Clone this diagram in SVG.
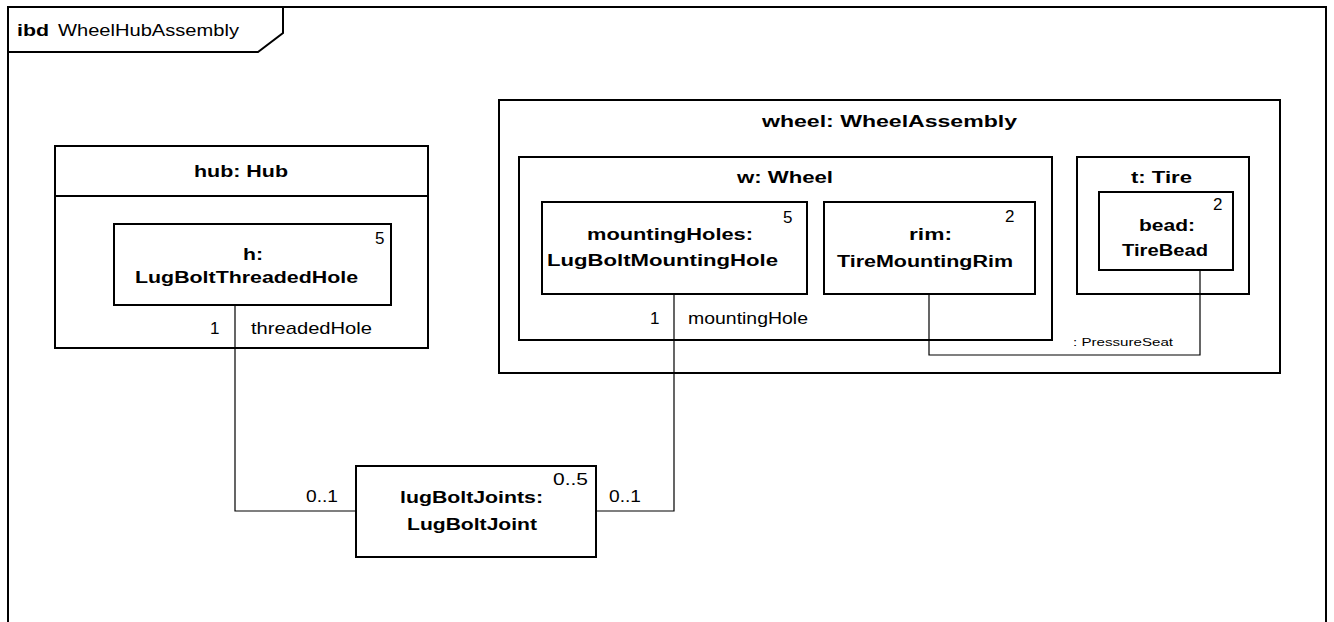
<svg xmlns="http://www.w3.org/2000/svg" width="1334" height="622" viewBox="0 0 1334 622">
<style>
.box{fill:#fff;stroke:#000;stroke-width:2}
.frame{fill:none;stroke:#000;stroke-width:2}
.conn{fill:none;stroke:#000;stroke-width:1.2}
text{font-family:"Liberation Sans",Arial,sans-serif;fill:#000}
.b{font-weight:bold;font-size:16px}
.r{font-size:17px}
.s{font-size:11px}
</style>
<rect width="1334" height="622" fill="#fff"/>
<g id="frame">
<path class="frame" d="M8,640 V7 H1326 V640"/>
<path class="frame" d="M8,52 H258 L283,33 V7"/>
<text x="17" y="36" class="b" font-size="17" textLength="32" lengthAdjust="spacingAndGlyphs">ibd</text>
<text x="58" y="36" class="r" textLength="181" lengthAdjust="spacingAndGlyphs">WheelHubAssembly</text>
</g>
<g id="hub">
<rect class="box" x="55" y="146" width="373" height="202"/>
<line class="frame" x1="55" y1="196" x2="428" y2="196"/>
<text x="194" y="177" class="b" textLength="94" lengthAdjust="spacingAndGlyphs">hub: Hub</text>
</g>
<g id="h">
<rect class="box" x="114" y="224" width="277" height="81"/>
<text x="243" y="260" class="b" textLength="20" lengthAdjust="spacingAndGlyphs">h:</text>
<text x="135" y="283" class="b" textLength="223" lengthAdjust="spacingAndGlyphs">LugBoltThreadedHole</text>
<text x="375" y="244" class="r">5</text>
</g>
<g id="wheel">
<rect class="box" x="499" y="100" width="781" height="273"/>
<text x="762" y="127" class="b" textLength="255" lengthAdjust="spacingAndGlyphs">wheel:  WheelAssembly</text>
</g>
<g id="w">
<rect class="box" x="519" y="157" width="533" height="183"/>
<text x="737" y="183" class="b" textLength="96" lengthAdjust="spacingAndGlyphs">w: Wheel</text>
</g>
<g id="mountingHoles">
<rect class="box" x="542" y="202" width="265" height="92"/>
<text x="587" y="240" class="b" textLength="166" lengthAdjust="spacingAndGlyphs">mountingHoles:</text>
<text x="547" y="266" class="b" textLength="231" lengthAdjust="spacingAndGlyphs">LugBoltMountingHole</text>
<text x="783" y="223" class="r">5</text>
</g>
<g id="rim">
<rect class="box" x="824" y="202" width="211" height="92"/>
<text x="909" y="240" class="b" textLength="43" lengthAdjust="spacingAndGlyphs">rim:</text>
<text x="837" y="267" class="b" textLength="176" lengthAdjust="spacingAndGlyphs">TireMountingRim</text>
<text x="1005" y="222" class="r">2</text>
</g>
<g id="t">
<rect class="box" x="1077" y="157" width="172" height="137"/>
<text x="1131" y="183" class="b" textLength="61" lengthAdjust="spacingAndGlyphs">t: Tire</text>
</g>
<g id="bead">
<rect class="box" x="1099" y="192" width="134" height="78"/>
<text x="1139" y="231" class="b" textLength="56" lengthAdjust="spacingAndGlyphs">bead:</text>
<text x="1122" y="256" class="b" textLength="86" lengthAdjust="spacingAndGlyphs">TireBead</text>
<text x="1213" y="210" class="r">2</text>
</g>
<g id="lugBoltJoints">
<rect class="box" x="356" y="466" width="240" height="91"/>
<text x="400" y="503" class="b" textLength="143" lengthAdjust="spacingAndGlyphs">lugBoltJoints:</text>
<text x="407" y="530" class="b" textLength="130" lengthAdjust="spacingAndGlyphs">LugBoltJoint</text>
<text x="553" y="485" class="r" textLength="35" lengthAdjust="spacingAndGlyphs">0..5</text>
</g>
<g id="connectors">
<path class="conn" d="M235,305 V511 H356"/>
<path class="conn" d="M674,294 V511 H596"/>
<path class="conn" d="M929,294 V355 H1200 V270"/>
<text x="210" y="334" class="r">1</text>
<text x="251" y="334" class="r" textLength="121" lengthAdjust="spacingAndGlyphs">threadedHole</text>
<text x="650" y="324" class="r">1</text>
<text x="688" y="324" class="r" textLength="120" lengthAdjust="spacingAndGlyphs">mountingHole</text>
<text x="306" y="502" class="r" textLength="32" lengthAdjust="spacingAndGlyphs">0..1</text>
<text x="609" y="502" class="r" textLength="32" lengthAdjust="spacingAndGlyphs">0..1</text>
<text x="1073" y="346" class="s" textLength="100" lengthAdjust="spacingAndGlyphs">: PressureSeat</text>
</g>
</svg>
